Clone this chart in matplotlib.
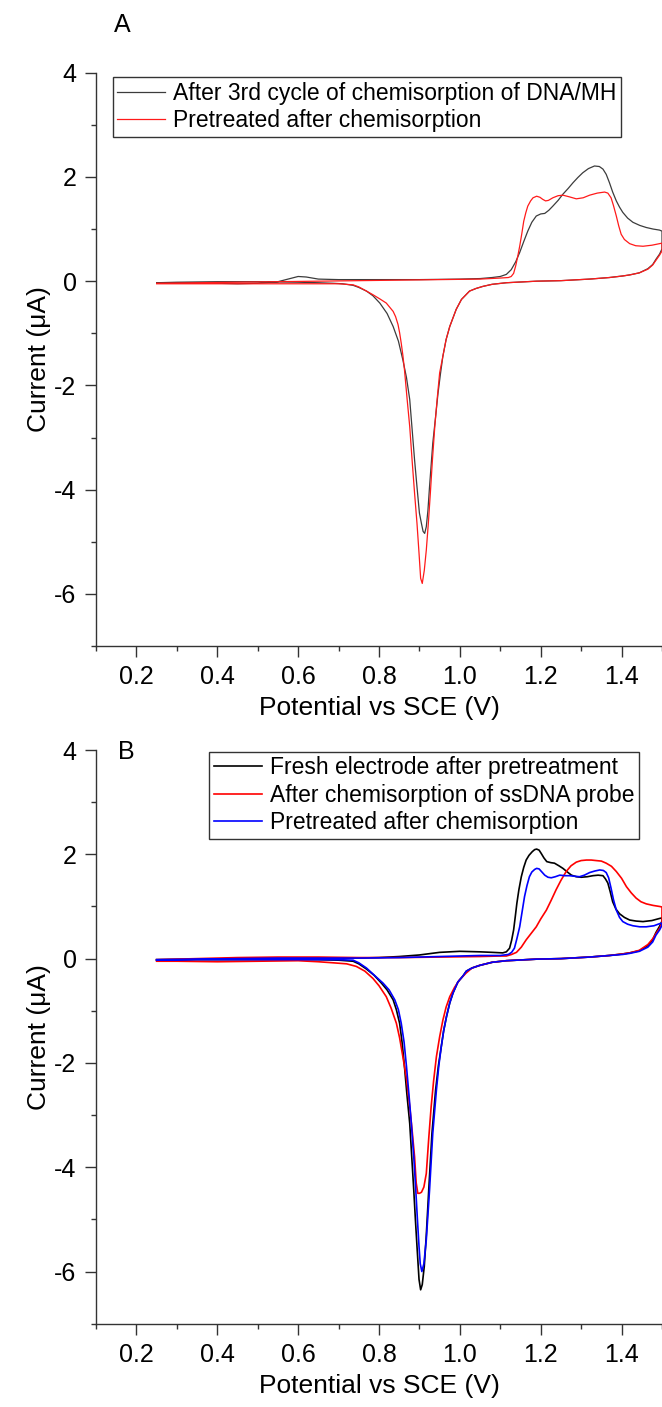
import matplotlib
matplotlib.use("Agg")
import matplotlib.pyplot as plt
from matplotlib.ticker import MultipleLocator

plt.rcParams['font.family'] = ['Liberation Sans', 'DejaVu Sans']
plt.rcParams['axes.unicode_minus'] = False

# ---- Panel A: cyclic voltammograms (E in V vs SCE, I in uA) ----
# each curve = forward sweep 0.25 -> 1.5 V followed by the reverse sweep back to 0.25 V
a_dna_e = [0.25, 0.30, 0.35, 0.40, 0.45, 0.50, 0.55, 0.58, 0.60, 0.62, 0.65, 0.70, 0.80, 0.90,
           1.00, 1.05, 1.08, 1.10, 1.115, 1.127, 1.138, 1.148, 1.158, 1.168, 1.178, 1.189, 1.20,
           1.21, 1.22, 1.23, 1.243, 1.255, 1.268, 1.28, 1.292, 1.304, 1.318, 1.333, 1.345, 1.354,
           1.362, 1.37, 1.378, 1.387, 1.395, 1.403, 1.415, 1.428, 1.445, 1.461, 1.478, 1.494, 1.50,
           1.50, 1.494, 1.485, 1.477, 1.465, 1.444, 1.42, 1.403, 1.37, 1.321, 1.25, 1.19, 1.115,
           1.08, 1.057, 1.04, 1.024, 1.004, 0.991, 0.975, 0.966, 0.958, 0.952, 0.946, 0.94, 0.933,
           0.925, 0.921, 0.917, 0.913, 0.909, 0.905, 0.90, 0.894, 0.888, 0.882, 0.876, 0.868,
           0.859, 0.848, 0.835, 0.82, 0.802, 0.785, 0.769, 0.75, 0.736, 0.71, 0.686, 0.65, 0.60,
           0.50, 0.40, 0.30, 0.25]
a_dna_i = [-0.03, -0.03, -0.03, -0.04, -0.05, -0.04, -0.01, 0.05, 0.09, 0.08, 0.04, 0.03, 0.03, 0.03,
           0.04, 0.05, 0.07, 0.09, 0.13, 0.22, 0.37, 0.55, 0.76, 0.96, 1.13, 1.25, 1.29,
           1.30, 1.36, 1.44, 1.55, 1.67, 1.78, 1.89, 1.99, 2.08, 2.16, 2.21, 2.20, 2.15,
           2.05, 1.89, 1.71, 1.54, 1.42, 1.32, 1.21, 1.13, 1.07, 1.03, 1.00, 0.98, 0.96,
           0.62, 0.52, 0.42, 0.32, 0.24, 0.16, 0.12, 0.10, 0.07, 0.04, 0.01, 0.0, -0.03,
           -0.06, -0.10, -0.14, -0.19, -0.35, -0.54, -0.87, -1.12, -1.44, -1.78, -2.15, -2.60, -3.11,
           -3.94, -4.40, -4.71, -4.84, -4.80, -4.65, -4.45, -3.95, -3.43, -2.85, -2.27, -1.85,
           -1.51, -1.15, -0.87, -0.62, -0.42, -0.28, -0.19, -0.12, -0.08, -0.05, -0.04, -0.03, -0.02,
           -0.01, -0.01, -0.02, -0.03]

a_pre_e = [0.25, 0.35, 0.45, 0.55, 0.65, 0.75, 0.85, 0.95, 1.05, 1.10, 1.12, 1.127, 1.133, 1.138,
           1.143, 1.148, 1.153, 1.158, 1.163, 1.168, 1.175, 1.181, 1.19, 1.198, 1.205, 1.212, 1.219,
           1.23, 1.243, 1.255, 1.27, 1.288, 1.305, 1.321, 1.34, 1.358, 1.366, 1.374, 1.38, 1.387,
           1.393, 1.399, 1.407, 1.42, 1.435, 1.453, 1.475, 1.494, 1.50,
           1.50, 1.494, 1.485, 1.477, 1.465, 1.444, 1.42, 1.403, 1.37, 1.321, 1.25, 1.19, 1.115,
           1.08, 1.057, 1.04, 1.024, 1.004, 0.991, 0.975, 0.966, 0.958, 0.95, 0.944, 0.938, 0.932,
           0.927, 0.922, 0.917, 0.912, 0.907, 0.903, 0.899, 0.894, 0.888, 0.882, 0.876, 0.87,
           0.863, 0.859, 0.855, 0.851, 0.847, 0.841, 0.835, 0.818, 0.802, 0.785, 0.769, 0.75,
           0.736, 0.70, 0.65, 0.55, 0.45, 0.35, 0.25]
a_pre_i = [-0.04, -0.03, -0.02, -0.01, 0.0, 0.01, 0.02, 0.03, 0.04, 0.06, 0.07, 0.09, 0.15, 0.29,
           0.47, 0.67, 0.90, 1.15, 1.31, 1.44, 1.54, 1.60, 1.63, 1.61, 1.57, 1.54, 1.55,
           1.60, 1.64, 1.65, 1.62, 1.58, 1.60, 1.65, 1.69, 1.71, 1.69, 1.60, 1.45, 1.25,
           1.06, 0.90, 0.80, 0.72, 0.68, 0.67, 0.69, 0.72, 0.73,
           0.58, 0.50, 0.40, 0.31, 0.23, 0.16, 0.12, 0.10, 0.07, 0.04, 0.01, 0.0, -0.03,
           -0.06, -0.10, -0.14, -0.19, -0.35, -0.54, -0.87, -1.12, -1.44, -1.76, -2.25, -2.79, -3.45,
           -4.07, -4.65, -5.16, -5.55, -5.80, -5.70, -5.22, -4.65, -4.07, -3.45, -2.79, -2.30,
           -1.70, -1.42, -1.19, -0.99, -0.83, -0.68, -0.58, -0.42, -0.34, -0.26, -0.19, -0.11,
           -0.07, -0.05, -0.05, -0.05, -0.05, -0.05, -0.05]

# ---- Panel B ----
b_fresh_e = [0.25, 0.35, 0.45, 0.55, 0.65, 0.75, 0.80, 0.85, 0.90, 0.95, 1.00, 1.05, 1.08, 1.106,
             1.115, 1.123, 1.128, 1.133, 1.137, 1.141, 1.146, 1.152, 1.158, 1.164, 1.171, 1.179,
             1.185, 1.19, 1.196, 1.201, 1.208, 1.215, 1.225, 1.234, 1.245, 1.255, 1.266, 1.276,
             1.288, 1.30, 1.315, 1.329, 1.342, 1.354, 1.36, 1.366, 1.372, 1.378, 1.386, 1.395,
             1.407, 1.42, 1.436, 1.453, 1.475, 1.494, 1.50,
             1.50, 1.494, 1.485, 1.477, 1.465, 1.444, 1.42, 1.403, 1.37, 1.321, 1.25, 1.19, 1.115,
             1.08, 1.049, 1.03, 1.016, 1.008, 0.995, 0.983, 0.975, 0.967, 0.96, 0.954, 0.947, 0.94,
             0.931, 0.923, 0.917, 0.912, 0.907, 0.903, 0.899, 0.894, 0.89, 0.886, 0.881, 0.876,
             0.869, 0.863, 0.857, 0.851, 0.843, 0.835, 0.82, 0.806, 0.788, 0.769, 0.75, 0.736,
             0.70, 0.65, 0.55, 0.45, 0.35, 0.25]
b_fresh_i = [-0.02, -0.01, 0.0, 0.0, 0.01, 0.01, 0.02, 0.04, 0.07, 0.12, 0.14, 0.13, 0.12, 0.11,
             0.13, 0.20, 0.35, 0.55, 0.80, 1.06, 1.32, 1.57, 1.75, 1.89, 1.98, 2.05,
             2.09, 2.10, 2.08, 2.02, 1.93, 1.86, 1.84, 1.83, 1.78, 1.73, 1.66, 1.60,
             1.57, 1.56, 1.57, 1.59, 1.60, 1.59, 1.53, 1.45, 1.28, 1.09, 0.95, 0.86,
             0.79, 0.74, 0.72, 0.71, 0.73, 0.77, 0.78,
             0.72, 0.62, 0.50, 0.36, 0.25, 0.15, 0.11, 0.09, 0.06, 0.03, 0.0, -0.01, -0.04,
             -0.07, -0.13, -0.18, -0.24, -0.33, -0.45, -0.66, -0.85, -1.11, -1.38, -1.69, -2.05, -2.52,
             -3.35, -4.44, -5.30, -5.90, -6.25, -6.35, -6.15, -5.52, -5.00, -4.44, -3.80, -3.16,
             -2.60, -2.07, -1.60, -1.24, -0.98, -0.79, -0.60, -0.47, -0.32, -0.20, -0.10, -0.05,
             -0.03, -0.02, -0.02, -0.02, -0.02, -0.03]

b_probe_e = [0.25, 0.35, 0.45, 0.55, 0.65, 0.75, 0.85, 0.95, 1.05, 1.10, 1.115, 1.128, 1.14, 1.152,
             1.164, 1.176, 1.189, 1.20, 1.214, 1.226, 1.238, 1.25, 1.263, 1.275, 1.288, 1.30,
             1.313, 1.325, 1.337, 1.35, 1.362, 1.375, 1.387, 1.40, 1.412, 1.424, 1.436, 1.448,
             1.461, 1.478, 1.494, 1.50,
             1.50, 1.494, 1.485, 1.477, 1.465, 1.444, 1.42, 1.403, 1.37, 1.321, 1.25, 1.19, 1.115,
             1.08, 1.049, 1.03, 1.015, 0.999, 0.987, 0.975, 0.966, 0.958, 0.95, 0.942, 0.935, 0.929,
             0.923, 0.917, 0.911, 0.905, 0.90, 0.896, 0.892, 0.888, 0.882, 0.876, 0.868, 0.859,
             0.851, 0.843, 0.83, 0.818, 0.80, 0.785, 0.765, 0.744, 0.72, 0.686, 0.65, 0.60, 0.50,
             0.40, 0.30, 0.25]
b_probe_i = [-0.02, 0.0, 0.02, 0.03, 0.03, 0.02, 0.02, 0.03, 0.04, 0.05, 0.05, 0.08, 0.12, 0.22,
             0.36, 0.48, 0.61, 0.76, 0.93, 1.12, 1.32, 1.50, 1.67, 1.78, 1.85, 1.88,
             1.89, 1.89, 1.88, 1.87, 1.83, 1.77, 1.67, 1.54, 1.38, 1.26, 1.16, 1.09,
             1.05, 1.02, 1.00, 0.99,
             0.68, 0.58, 0.48, 0.38, 0.27, 0.16, 0.11, 0.09, 0.06, 0.03, 0.0, -0.01, -0.04,
             -0.07, -0.13, -0.18, -0.28, -0.41, -0.55, -0.73, -0.93, -1.18, -1.50, -1.88, -2.35, -2.84,
             -3.45, -4.12, -4.38, -4.48, -4.50, -4.50, -4.30, -3.80, -3.30, -2.84, -2.30, -1.88,
             -1.52, -1.24, -0.95, -0.73, -0.52, -0.38, -0.24, -0.15, -0.10, -0.08, -0.06, -0.04, -0.05,
             -0.06, -0.05, -0.05]

b_pre_e = [0.25, 0.35, 0.45, 0.55, 0.65, 0.75, 0.85, 0.95, 1.00, 1.05, 1.10, 1.12, 1.128, 1.135,
           1.141, 1.148, 1.154, 1.16, 1.166, 1.172, 1.178, 1.185, 1.19, 1.196, 1.203, 1.21, 1.218,
           1.226, 1.236, 1.247, 1.26, 1.271, 1.284, 1.296, 1.308, 1.321, 1.334, 1.346, 1.355,
           1.362, 1.368, 1.374, 1.38, 1.387, 1.395, 1.403, 1.415, 1.428, 1.445, 1.461, 1.48,
           1.494, 1.50,
           1.50, 1.494, 1.485, 1.477, 1.465, 1.444, 1.42, 1.403, 1.37, 1.321, 1.25, 1.19, 1.115,
           1.08, 1.049, 1.03, 1.016, 1.008, 0.995, 0.983, 0.975, 0.967, 0.96, 0.954, 0.948, 0.942,
           0.933, 0.925, 0.917, 0.911, 0.906, 0.902, 0.899, 0.895, 0.891, 0.886, 0.88, 0.874,
           0.868, 0.862, 0.855, 0.848, 0.839, 0.825, 0.81, 0.79, 0.769, 0.75, 0.736, 0.70, 0.65,
           0.55, 0.45, 0.35, 0.25]
b_pre_i = [-0.02, -0.01, 0.0, 0.01, 0.01, 0.01, 0.02, 0.04, 0.05, 0.06, 0.06, 0.08, 0.12, 0.20,
           0.38, 0.61, 0.90, 1.19, 1.40, 1.57, 1.66, 1.71, 1.73, 1.72, 1.66, 1.60, 1.56,
           1.55, 1.57, 1.60, 1.59, 1.59, 1.58, 1.57, 1.60, 1.65, 1.68, 1.70, 1.69,
           1.65, 1.55, 1.35, 1.13, 0.93, 0.79, 0.71, 0.66, 0.63, 0.61, 0.61, 0.63,
           0.67, 0.68,
           0.64, 0.55, 0.45, 0.32, 0.22, 0.14, 0.10, 0.08, 0.06, 0.03, 0.0, -0.01, -0.04,
           -0.07, -0.13, -0.18, -0.24, -0.33, -0.45, -0.66, -0.85, -1.11, -1.38, -1.69, -2.05, -2.52,
           -3.35, -4.44, -5.39, -5.85, -6.00, -5.85, -5.52, -5.00, -4.44, -3.80, -3.16, -2.60,
           -2.07, -1.60, -1.24, -0.98, -0.79, -0.60, -0.47, -0.33, -0.18, -0.08, -0.03, -0.02, -0.02,
           -0.02, -0.02, -0.02, -0.03]

a_labels = ['After 3rd cycle of chemisorption of DNA/MH', 'Pretreated after chemisorption']
b_labels = ['Fresh electrode after pretreatment', 'After chemisorption of ssDNA probe',
            'Pretreated after chemisorption']

W, H = 662, 1407
fig = plt.figure(figsize=(W / 100, H / 100), dpi=100)

axA = fig.add_axes([96 / W, 1 - 646 / H, 1 - 96 / W, (646 - 72.7) / H])
axB = fig.add_axes([96 / W, 1 - 1323.7 / H, 1 - 96 / W, (1323.7 - 750) / H])

axA.plot(a_dna_e, a_dna_i, color='#3c3c3c', lw=0.9, label=a_labels[0])
axA.plot(a_pre_e, a_pre_i, color='#ff1a1a', lw=0.9, label=a_labels[1])

axB.plot(b_fresh_e, b_fresh_i, color='black', lw=1.2, label=b_labels[0])
axB.plot(b_probe_e, b_probe_i, color='#ff0000', lw=1.2, label=b_labels[1])
axB.plot(b_pre_e, b_pre_i, color='#0000ff', lw=1.2, label=b_labels[2])

spine_col = '#333333'
for ax in (axA, axB):
    ax.set_xlim(0.1, 1.5)
    ax.set_ylim(-7, 4)
    ax.spines['top'].set_visible(False)
    ax.spines['right'].set_visible(False)
    for s in ('left', 'bottom'):
        ax.spines[s].set_color(spine_col)
        ax.spines[s].set_linewidth(1.0)
    ax.xaxis.set_major_locator(MultipleLocator(0.2))
    ax.xaxis.set_minor_locator(MultipleLocator(0.1))
    ax.yaxis.set_major_locator(MultipleLocator(2))
    ax.yaxis.set_minor_locator(MultipleLocator(1))
    ax.set_xticks([0.2, 0.4, 0.6, 0.8, 1.0, 1.2, 1.4])
    ax.set_xticklabels(['0.2', '0.4', '0.6', '0.8', '1.0', '1.2', '1.4'])
    ax.tick_params(which='major', direction='out', length=8, width=1.0, color=spine_col,
                   labelsize=18, pad=6)
    ax.tick_params(which='minor', direction='out', length=3.6, width=1.0, color=spine_col)
    ax.set_xlabel('Potential vs SCE (V)', fontsize=19, labelpad=5)
    ax.set_ylabel('Current (\u03bcA)', fontsize=19, labelpad=2)

legA = axA.legend(loc='upper left', bbox_to_anchor=(112.7 / W, 1 - 77.3 / H),
                  bbox_transform=fig.transFigure, fontsize=16.5, frameon=True, fancybox=False,
                  borderaxespad=0, borderpad=0.2, labelspacing=0.2, handlelength=2.1,
                  handletextpad=0.35)
legB = axB.legend(loc='upper left', bbox_to_anchor=(209 / W, 1 - 751.7 / H),
                  bbox_transform=fig.transFigure, fontsize=16.5, frameon=True, fancybox=False,
                  borderaxespad=0, borderpad=0.2, labelspacing=0.2, handlelength=2.1,
                  handletextpad=0.35)
for leg in (legA, legB):
    leg.get_frame().set_edgecolor('black')
    leg.get_frame().set_linewidth(1.0)

fig.text(122 / W, 1 - 25 / H, 'A', fontsize=18, ha='center', va='center')
fig.text(126 / W, 1 - 752 / H, 'B', fontsize=18, ha='center', va='center')

fig.savefig('out.png', dpi=100)
